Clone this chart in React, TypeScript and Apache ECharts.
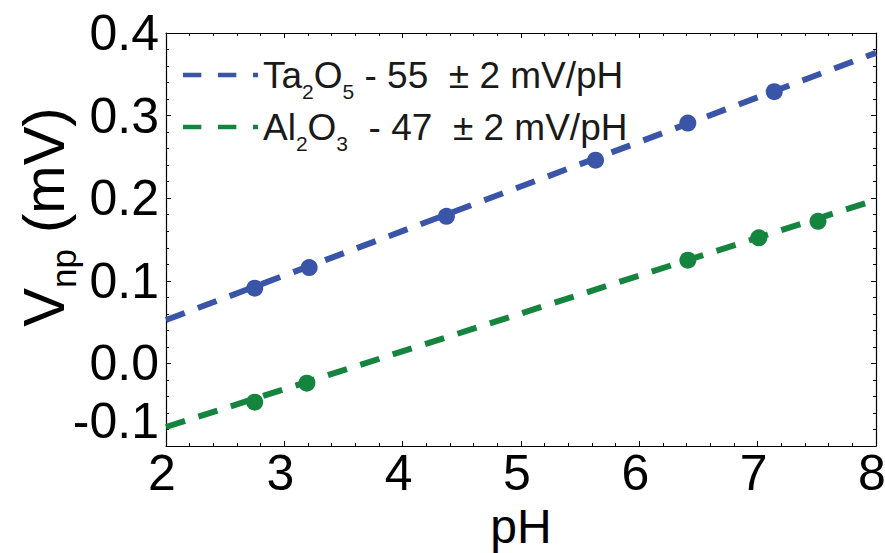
import React, { useEffect, useRef } from "react";
import * as echarts from "echarts";

// Measured points (pH, V)
const taPH = [2.75, 3.21, 4.37, 5.63, 6.41, 7.14];
const taV = [0.091, 0.116, 0.178, 0.246, 0.291, 0.329];
const alPH = [2.75, 3.19, 6.41, 7.01, 7.51];
const alV = [-0.047, -0.024, 0.125, 0.152, 0.172];

// Fit line end points
const fitPH = [2, 8];
const taFitV = [0.0525, 0.376];
const alFitV = [-0.077, 0.198];

const taName = "Ta2O5";
const alName = "Al2O3";
const taLabel = "{a|Ta}{s|2}{a|O}{s|5}{a| - 55  ± 2 mV/pH}";
const alLabel = "{a|Al}{s|2}{a|O}{s|3}{a|  - 47  ± 2 mV/pH}";

const xMin = 2;
const xMax = 8;
const yMin = -0.1;
const yMax = 0.4;

const BLUE = "#3a55a8";
const GREEN = "#14843f";
const FONT = "'Liberation Sans', Arial, sans-serif";

const zip = (a: number[], b: number[]) => a.map((v, i) => [v, b[i]]);

const dashIcon =
  "path://M0,0h55v14h-55z M105,0h55v14h-55z M210,0h15v14h-15z";

export default function App() {
  const ref = useRef<HTMLDivElement>(null);
  useEffect(() => {
    if (!ref.current) return;
    const chart = echarts.init(ref.current, undefined, { renderer: "svg" });
    const axisCommon = {
      type: "value" as const,
      axisLine: { show: true, onZero: false, lineStyle: { color: "#000", width: 1.2 } },
      axisTick: { show: true, inside: true, length: 5, lineStyle: { color: "#000", width: 1 } },
      minorTick: { show: true, splitNumber: 5, length: 3, lineStyle: { color: "#000", width: 1 } },
      splitLine: { show: false },
    };
    const legendRich = {
      a: { fontSize: 37, lineHeight: 42, color: "#1a1a1a", fontFamily: FONT },
      s: { fontSize: 21, lineHeight: 21, padding: [33, 0, 0, 0], color: "#1a1a1a", fontFamily: FONT },
    };
    const legendCommon = {
      orient: "vertical" as const,
      left: 178,
      icon: dashIcon,
      itemWidth: 75,
      itemHeight: 5,
      textStyle: { fontSize: 37, color: "#1a1a1a", fontFamily: FONT, rich: legendRich },
    };
    chart.setOption({
      animation: false,
      backgroundColor: "#fff",
      grid: {
        left: 166,
        right: 9,
        top: 33,
        bottom: 107,
        containLabel: false,
        outerBoundsMode: "none",
      },
      legend: [
        { ...legendCommon, top: 43, data: [taName], formatter: () => taLabel },
        { ...legendCommon, top: 95, data: [alName], formatter: () => alLabel },
      ],
      xAxis: [
        {
          ...axisCommon,
          min: xMin,
          max: xMax,
          interval: 1,
          position: "bottom",
          name: "pH",
          nameLocation: "middle",
          nameGap: 44,
          nameTextStyle: { fontSize: 48, color: "#000", fontFamily: FONT },
          axisLabel: {
            fontSize: 50,
            color: "#000",
            fontFamily: FONT,
            margin: 2,
            padding: [0, 8, 0, 0],
          },
        },
        {
          ...axisCommon,
          min: xMin,
          max: xMax,
          interval: 1,
          position: "top",
          axisLabel: { show: false },
        },
      ],
      yAxis: [
        {
          ...axisCommon,
          min: yMin,
          max: yMax,
          interval: 0.1,
          position: "left",
          axisLabel: {
            fontSize: 50,
            color: "#000",
            fontFamily: FONT,
            margin: 7,
            verticalAlignMinLabel: "bottom",
            formatter: (v: number) => v.toFixed(1),
          },
        },
        {
          ...axisCommon,
          min: yMin,
          max: yMax,
          interval: 0.1,
          position: "right",
          axisLabel: { show: false },
        },
      ],
      graphic: [
        {
          type: "text",
          x: 43,
          y: 217,
          rotation: Math.PI / 2,
          style: {
            text: "{a|V}{s|np}{a| (mV)}",
            align: "center",
            verticalAlign: "middle",
            rich: {
              a: { fontSize: 58, lineHeight: 64, fill: "#000", fontFamily: FONT },
              s: { fontSize: 35, lineHeight: 35, padding: [40, 0, 0, 0], fill: "#000", fontFamily: FONT },
            },
          },
        },
      ],
      series: [
        {
          name: taName,
          type: "line",
          data: zip(fitPH, taFitV),
          symbol: "none",
          color: BLUE,
          lineStyle: { color: BLUE, width: 6, type: [20, 14] },
          z: 2,
        },
        {
          name: taName + " data",
          type: "scatter",
          data: zip(taPH, taV),
          symbolSize: 17,
          itemStyle: { color: BLUE, opacity: 1 },
          z: 3,
        },
        {
          name: alName,
          type: "line",
          data: zip(fitPH, alFitV),
          symbol: "none",
          color: GREEN,
          lineStyle: { color: GREEN, width: 6, type: [20, 14] },
          z: 2,
        },
        {
          name: alName + " data",
          type: "scatter",
          data: zip(alPH, alV),
          symbolSize: 17,
          itemStyle: { color: GREEN, opacity: 1 },
          z: 3,
        },
      ],
    });
    return () => chart.dispose();
  }, []);
  return (
    <div
      ref={ref}
      style={{ position: "fixed", left: 0, top: 0, width: 885, height: 553, background: "#fff" }}
    />
  );
}
